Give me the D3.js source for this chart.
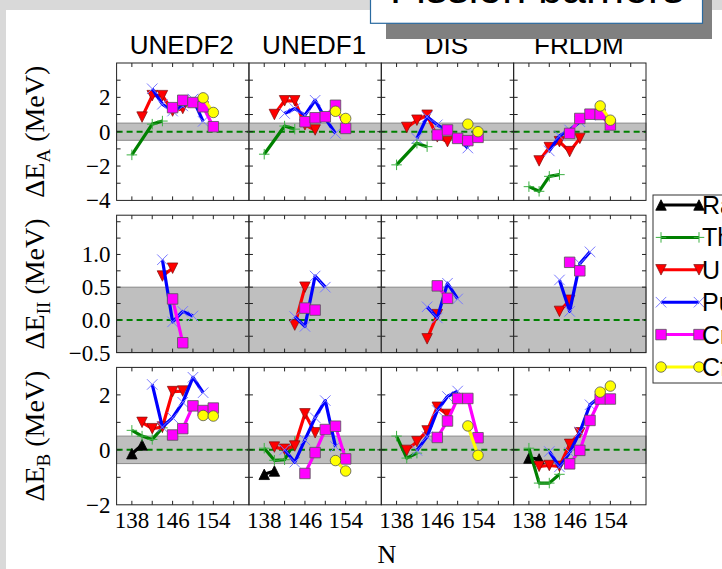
<!DOCTYPE html>
<html lang="en">
<head>
<meta charset="UTF-8">
<title>Fission barriers</title>
<script src="https://d3js.org/d3.v7.min.js"></script>
<style>
  body { margin: 0; background: #fff; }
  svg { display: block; }
  .serif { font-family: "Liberation Serif", "DejaVu Serif", serif; }
  .sans { font-family: "Liberation Sans", Arial, sans-serif; }
</style>
</head>
<body>
<svg id="chart" width="722" height="569"></svg>
<script>
'use strict';

const models = ['UNEDF2', 'UNEDF1', 'DIS', 'FRLDM'];
const elements = ['Ra', 'Th', 'U', 'Pu', 'Cm', 'Cf'];
const xTicks = [138, 142, 146, 150, 154, 158];
const xLabels = [138, 146, 154];

// [element, N, deviation (MeV)] -- first barrier
const dEA_UNEDF2 = [
  ['Th', [138, 142, 144], [-1.35, 0.44, 0.62]],
  ['U', [140, 142, 144, 146, 148], [0.85, 2.1, 2.1, 1.2, 1.35]],
  ['Pu', [142, 144, 146, 148, 150, 152], [2.5, 1.6, 1.2, 1.5, 1.9, 0.6]],
  ['Cm', [146, 148, 150, 152, 154], [1.4, 1.83, 1.7, 1.45, 0.29]],
  ['Cf', [152, 154], [1.97, 1.12]]
];
const dEA_UNEDF1 = [
  ['Th', [138, 142, 144], [-1.31, 0.33, 0.15]],
  ['U', [140, 142, 144, 146, 148], [1.0, 1.8, 1.8, 0.4, 0.1]],
  ['Pu', [142, 144, 146, 148, 150, 152], [1.06, 1.35, 0.96, 1.83, 0.77, -0.1]],
  ['Cm', [146, 148, 150, 152, 154], [0.58, 0.81, 0.87, 1.54, 0.19]],
  ['Cf', [152, 154], [1.19, 0.77]]
];
const dEA_DIS = [
  ['Th', [138, 142, 144], [-1.93, -0.67, -0.87]],
  ['U', [140, 142, 144, 146, 148], [0.25, 0.67, 0.96, -0.3, -0.58]],
  ['Pu', [142, 144, 146, 148, 150, 152], [-0.39, 0.87, 0.4, 0.05, -0.35, -0.95]],
  ['Cm', [146, 148, 150, 152, 154], [-0.19, 0.1, -0.39, -0.52, -0.33]],
  ['Cf', [152, 154], [0.44, 0.0]]
];
const dEA_FRLDM = [
  ['Th', [138, 140, 142, 144], [-3.2, -3.47, -2.6, -2.5]],
  ['U', [140, 142, 144, 146, 148], [-1.7, -0.92, -0.58, -1.16, -0.39]],
  ['Pu', [142, 144, 146, 148, 150, 152], [-1.12, -0.25, 0.1, 0.58, 0.96, 1.06]],
  ['Cm', [146, 148, 150, 152, 154], [-0.1, 0.77, 1.02, 1.0, 0.39]],
  ['Cf', [152, 154], [1.5, 0.67]]
];

// isomer (second minimum)
const dEII_UNEDF2 = [
  ['U', [144, 146], [0.67, 0.79]],
  ['Pu', [144, 146, 148, 150], [0.92, -0.03, 0.13, 0.06]],
  ['Cm', [146, 148], [0.32, -0.35]]
];
const dEII_UNEDF1 = [
  ['U', [144, 146], [-0.08, 0.5]],
  ['Pu', [144, 146, 148, 150], [0.05, -0.1, 0.67, 0.5]],
  ['Cm', [146, 148], [0.18, 0.15]]
];
const dEII_DIS = [
  ['U', [144, 146], [-0.29, 0.08]],
  ['Pu', [144, 146, 148, 150], [0.2, 0.03, 0.56, 0.32]],
  ['Cm', [146, 148], [0.52, 0.33]]
];
const dEII_FRLDM = [
  ['U', [144, 146], [0.13, 0.3]],
  ['Pu', [144, 146, 148, 150], [0.61, 0.13, 0.86, 1.04]],
  ['Cm', [146, 148], [0.88, 0.75]]
];

// second barrier
const dEB_UNEDF2 = [
  ['Ra', [138, 140], [-0.14, 0.18]],
  ['Th', [138, 140, 142, 144], [0.71, 0.5, 0.38, 0.8]],
  ['U', [140, 142, 144, 146, 148], [1.0, 0.77, 0.83, 2.12, 2.14]],
  ['Pu', [142, 144, 146, 148, 150, 152], [2.38, 0.83, 1.17, 1.73, 2.64, 2.08]],
  ['Cm', [146, 148, 150, 152, 154], [0.54, 0.77, 1.6, 1.43, 1.52]],
  ['Cf', [152, 154], [1.25, 1.23]]
];
const dEB_UNEDF1 = [
  ['Ra', [138, 140], [-0.89, -0.77]],
  ['Th', [138, 140, 142, 144], [0.06, -0.38, -0.36, 0.3]],
  ['U', [140, 142, 144, 146, 148], [0.1, 0.02, 0.14, 1.31, 0.62]],
  ['Pu', [142, 144, 146, 148, 150, 152], [0.0, -0.45, 0.36, 1.17, 1.79, 0.12]],
  ['Cm', [146, 148, 150, 152, 154], [-0.86, -0.1, 0.74, 0.86, -0.33]],
  ['Cf', [152, 154], [-0.39, -0.77]]
];
const dEB_DIS = [
  ['Th', [138, 140, 142], [0.5, -0.3, -0.12]],
  ['U', [140, 142, 144, 146, 148], [-0.02, 0.3, 0.69, 1.55, 1.29]],
  ['Pu', [142, 144, 146, 148, 150], [-0.02, 0.48, 1.43, 1.94, 2.14]],
  ['Cm', [146, 148, 150, 152, 154], [0.45, 1.05, 1.87, 1.87, 0.44]],
  ['Cf', [152, 154], [0.87, -0.2]]
];
const dEB_FRLDM = [
  ['Ra', [138, 140], [-0.3, -0.33]],
  ['Th', [138, 140, 142, 144], [0.06, -1.21, -1.21, -0.89]],
  ['U', [140, 142, 144, 146, 148], [-0.6, -0.57, -0.6, 0.2, 0.62]],
  ['Pu', [142, 144, 146, 148, 150, 152], [-0.06, -0.62, -0.1, 0.65, 1.64, 1.94]],
  ['Cm', [146, 148, 150, 152, 154], [-0.51, -0.02, 1.07, 1.85, 1.85]],
  ['Cf', [152, 154], [2.1, 2.32]]
];

const rowSub = ['A', 'II', 'B'];
const yDomains = [[-4, 4], [-0.5, 1.6], [-2, 3]];
const yTicks = [[-3, -2, -1, 0, 1, 2, 3], [-0.25, 0, 0.25, 0.5, 0.75, 1, 1.25, 1.5], [-1, 0, 1, 2]];
const yLabelTicks = [[-4, -2, 0, 2], [-0.5, 0, 0.5, 1], [-2, 0, 2]];
const yFormats = ['d', '.1f', 'd'];
const bands = [[-0.5, 0.5], [-0.5, 0.5], [-0.5, 0.5]];

const rows = [
  [dEA_UNEDF2, dEA_UNEDF1, dEA_DIS, dEA_FRLDM],
  [dEII_UNEDF2, dEII_UNEDF1, dEII_DIS, dEII_FRLDM],
  [dEB_UNEDF2, dEB_UNEDF1, dEB_DIS, dEB_FRLDM]
];

const style = {
  Ra: { color: '#000', marker: 'triUp', fill: '#000', edge: '#000', ew: 0.8 },
  Th: { color: '#008000', marker: 'plus', fill: 'none', edge: '#3cb043', ew: 1 },
  U:  { color: '#ff0000', marker: 'triDown', fill: '#ff0000', edge: '#7a1010', ew: 0.7 },
  Pu: { color: '#0000ff', marker: 'cross', fill: 'none', edge: '#7a7aff', ew: 1 },
  Cm: { color: '#ff00ff', marker: 'square', fill: '#ff00ff', edge: '#555', ew: 0.8 },
  Cf: { color: '#ffff00', marker: 'circle', fill: '#ffff00', edge: '#555', ew: 0.8 }
};

function markerPath(type, s) {
  const h = s / 2;
  switch (type) {
    case 'triUp': return `M0,${-h}L${h},${h}L${-h},${h}Z`;
    case 'triDown': return `M0,${h}L${h},${-h}L${-h},${-h}Z`;
    case 'square': return `M${-h},${-h}H${h}V${h}H${-h}Z`;
    case 'plus': return `M${-h},0H${h}M0,${-h}V${h}`;
    case 'cross': return `M${-h},${-h}L${h},${h}M${-h},${h}L${h},${-h}`;
    default: return d3.symbol(d3.symbolCircle, Math.PI * h * h)();
  }
}

const svg = d3.select('#chart');

// slide background
svg.append('rect').attr('width', 722).attr('height', 569).attr('fill', '#d9d9d9');
svg.append('rect').attr('x', 6).attr('y', 10).attr('width', 716).attr('height', 559).attr('fill', '#fff');

const left = 116.6, colW = 132.35;
const top0 = 63, rowStep = 152.2, rowH = 137.4;

const x = d3.scaleLinear().domain([135, 161]).range([0, colW]);

const line = d3.line().x(d => x(d[0]));

rows.forEach((row, r) => {
  const y = d3.scaleLinear().domain(yDomains[r]).range([rowH, 0]);
  line.y(d => y(d[1]));
  row.forEach((series, c) => {
    const g = svg.append('g')
      .attr('transform', `translate(${left + c * colW},${top0 + r * rowStep})`);

    // tolerance band and zero line
    g.append('rect')
      .attr('x', 0).attr('width', colW)
      .attr('y', y(bands[r][1])).attr('height', y(bands[r][0]) - y(bands[r][1]))
      .attr('fill', '#bfbfbf').attr('stroke', '#8a8a8a').attr('stroke-width', 1);
    g.append('line')
      .attr('x1', 0).attr('x2', colW).attr('y1', y(0)).attr('y2', y(0))
      .attr('stroke', '#008000').attr('stroke-width', 2).attr('stroke-dasharray', '6,4');

    series.forEach(([el, ns, vals]) => {
      const st = style[el];
      const pts = ns.map((n, i) => [n, vals[i]]);
      g.append('path').datum(pts)
        .attr('d', line).attr('fill', 'none')
        .attr('stroke', st.color).attr('stroke-width', 3.2).attr('stroke-linejoin', 'round');
      g.selectAll(null).data(pts).enter().append('path')
        .attr('transform', d => `translate(${x(d[0])},${y(d[1])})`)
        .attr('d', markerPath(st.marker, 10.5))
        .attr('fill', st.fill).attr('stroke', st.edge).attr('stroke-width', st.ew);
    });

    // ticks inside on all four sides
    const tk = 4;
    xTicks.forEach(t => {
      g.append('line').attr('x1', x(t)).attr('x2', x(t)).attr('y1', rowH).attr('y2', rowH - tk).attr('stroke', '#222');
      g.append('line').attr('x1', x(t)).attr('x2', x(t)).attr('y1', 0).attr('y2', tk).attr('stroke', '#222');
    });
    yTicks[r].forEach(t => {
      g.append('line').attr('x1', 0).attr('x2', tk).attr('y1', y(t)).attr('y2', y(t)).attr('stroke', '#222');
      g.append('line').attr('x1', colW).attr('x2', colW - tk).attr('y1', y(t)).attr('y2', y(t)).attr('stroke', '#222');
    });

    g.append('rect').attr('width', colW).attr('height', rowH)
      .attr('fill', 'none').attr('stroke', '#222').attr('stroke-width', 1);

    if (c === 0) {
      const fmt = d3.format(yFormats[r]);
      yLabelTicks[r].forEach(t => {
        g.append('text').attr('class', 'serif')
          .attr('x', -6).attr('y', y(t)).attr('dy', '0.35em')
          .attr('text-anchor', 'end').attr('font-size', 23)
          .text(fmt(t).replace('-', '\u2212'));
      });
      const lab = svg.append('text').attr('class', 'serif')
        .attr('transform', `translate(44,${top0 + r * rowStep + rowH / 2}) rotate(-90)`)
        .attr('text-anchor', 'middle').attr('font-size', 28);
      lab.append('tspan').text('\u0394E');
      lab.append('tspan').attr('font-size', 19).attr('dy', 6).text(rowSub[r]);
      lab.append('tspan').attr('dy', -6).text(' (MeV)');
    }
    if (r === rows.length - 1) {
      xLabels.forEach(t => {
        g.append('text').attr('class', 'serif')
          .attr('x', x(t)).attr('y', rowH + 23)
          .attr('text-anchor', 'middle').attr('font-size', 23)
          .text(t);
      });
    }
    if (r === 0) {
      svg.append('text').attr('class', 'sans')
        .attr('x', left + c * colW + colW / 2 - 1).attr('y', 54)
        .attr('text-anchor', 'middle').attr('font-size', 26)
        .text(models[c]);
    }
  });
});

svg.append('text').attr('class', 'serif')
  .attr('x', 387).attr('y', 563).attr('text-anchor', 'middle').attr('font-size', 26)
  .text('N');

// legend (cut by the slide edge, as in the slide)
const lg = svg.append('g');
lg.append('rect').attr('x', 653).attr('y', 195).attr('width', 100).attr('height', 188)
  .attr('fill', '#fff').attr('stroke', '#333').attr('stroke-width', 1);
elements.forEach((el, i) => {
  const st = style[el];
  const ly = 205 + i * 32.4;
  lg.append('line').attr('x1', 661).attr('x2', 699).attr('y1', ly).attr('y2', ly)
    .attr('stroke', st.color).attr('stroke-width', 3);
  [661, 699].forEach(mx => {
    lg.append('path').attr('transform', `translate(${mx},${ly})`)
      .attr('d', markerPath(st.marker, 10.5))
      .attr('fill', st.fill).attr('stroke', st.edge).attr('stroke-width', st.ew);
  });
  lg.append('text').attr('class', 'sans')
    .attr('x', 702).attr('y', ly + 9).attr('font-size', 25)
    .text(el);
});

// slide title box
svg.append('rect').attr('x', 386).attr('y', -5).attr('width', 326).attr('height', 44).attr('fill', '#808080');
svg.append('rect').attr('x', 370.5).attr('y', -5).attr('width', 332).attr('height', 28.3)
  .attr('fill', '#fff').attr('stroke', '#2a6aa0').attr('stroke-width', 1.2);
svg.append('text').attr('class', 'sans')
  .attr('x', 390).attr('y', 3).attr('font-size', 43)
  .text('Fission barriers');
</script>
</body>
</html>
